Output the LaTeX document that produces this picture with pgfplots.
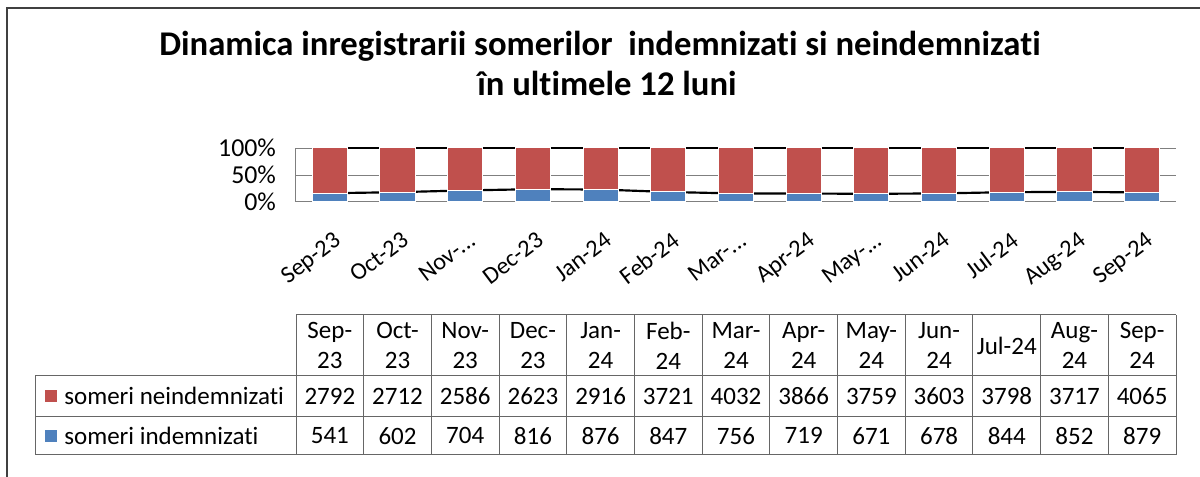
\documentclass[border=0pt]{standalone}
\usepackage{pgfplots}
\pgfplotsset{compat=1.18}
\usepackage{pgfplotstable}
\usepackage{fontspec}
\setmainfont{Carlito}[Ligatures=NoCommon]
\definecolor{cred}{HTML}{C0504D}
\definecolor{cblue}{HTML}{4F81BD}
\definecolor{cgrid}{HTML}{7F7F7F}

\pgfplotstableread{
x nein inde
0 2792 541
1 2712 602
2 2586 704
3 2623 816
4 2916 876
5 3721 847
6 4032 756
7 3866 719
8 3759 671
9 3603 678
10 3798 844
11 3717 852
12 4065 879
}\data

\newcommand\tabfont{\fontsize{15}{18}\selectfont}
\newcommand\dd{...}

\begin{document}
\begin{tikzpicture}[x=0.6pt,y=0.6pt]
\path[use as bounding box] (0,0) rectangle (1200,477);
% frame
\draw[line width=1pt, black!75] (7,0) -- (7,469) -- (1200,469);
% title
\node[anchor=base, font=\bfseries\fontsize{20.8}{25}\selectfont] at (600,421) {Dinamica inregistrarii somerilor\ \ indemnizati si neindemnizati};
\node[anchor=base, font=\bfseries\fontsize{20.8}{25}\selectfont] at (607,381) {în ultimele 12 luni};

% background axis: gridlines and series lines
\begin{axis}[at={(177.6pt,165pt)}, anchor=south west,
  width=528pt, height=32.4pt, scale only axis,
  xmin=-0.5, xmax=12.5, ymin=0, ymax=100,
  axis line style={draw=none},
  xtick=\empty, ytick={50,100}, yticklabels={},
  major tick length=0pt,
  ymajorgrids, grid style={cgrid, line width=0.4pt},
  clip=false]
\addplot[black, line width=1.3pt, mark=none]
  table[x=x, y expr={100*\thisrow{inde}/(\thisrow{inde}+\thisrow{nein})}]{\data};
\draw[black, line width=1.3pt] (axis cs:0,100) -- (axis cs:12,100);
\end{axis}

% bars axis
\begin{axis}[at={(177.6pt,165pt)}, anchor=south west,
  width=528pt, height=32.4pt, scale only axis,
  xmin=-0.5, xmax=12.5, ymin=0, ymax=100,
  ybar stacked, bar width=0.52,
  axis x line=bottom, axis y line=left,
  axis line style={-, cgrid, line width=0.6pt},
  xtick={0,...,12},
  xticklabels={Sep-23,Oct-23,Nov-\dd,Dec-23,Jan-24,Feb-24,Mar-\dd,Apr-24,May-\dd,Jun-24,Jul-24,Aug-24,Sep-24},
  ytick={0,50,100}, yticklabels={0\%,50\%,100\%},
  major tick length=0pt,
  yticklabel style={font=\fontsize{15.5}{18}\selectfont, xshift=-8.5pt},
  xticklabel style={font=\fontsize{14.5}{17}\selectfont, xshift=2.5pt, yshift=-12.5pt, rotate=37, anchor=north east},
  clip=false]
\addplot[fill=cblue, draw=white, line width=0.6pt]
  table[x=x, y expr={100*\thisrow{inde}/(\thisrow{inde}+\thisrow{nein})}]{\data};
\addplot[fill=cred, draw=white, line width=0.6pt]
  table[x=x, y expr={100*\thisrow{nein}/(\thisrow{inde}+\thisrow{nein})}]{\data};
\end{axis}

% data table
\begin{scope}[draw=black!60, line width=0.6pt]
\draw (296,162) -- (1176,162);
\draw (35,101) -- (1176,101);
\draw (35,60.5) -- (1176,60.5);
\draw (35,22) -- (1176,22);
\draw (35,101) -- (35,22);
\foreach \k in {0,...,13} {
  \draw ({296+67.692*\k},162) -- ({296+67.692*\k},22);
}
\end{scope}
\foreach \h [count=\i from 0] in {{Sep-\\23},{Oct-\\23},{Nov-\\23},{Dec-\\23},{Jan-\\24},{Feb-\\24},{Mar-\\24},{Apr-\\24},{May-\\24},{Jun-\\24},{Jul-24},{Aug-\\24},{Sep-\\24}} {
  \node[font=\tabfont, align=center, inner sep=0pt] at ({296+67.692*(\i+0.5)},131.5) {\h};
}
\foreach \k in {0,...,12} {
  \pgfplotstablegetelem{\k}{nein}\of\data
  \node[font=\tabfont, inner sep=0pt] at ({296+67.692*(\k+0.5)},80.75) {\pgfplotsretval};
  \pgfplotstablegetelem{\k}{inde}\of\data
  \node[font=\tabfont, inner sep=0pt] at ({296+67.692*(\k+0.5)},41.25) {\pgfplotsretval};
}
\fill[cred] (45,74.5) rectangle (57,86.5);
\fill[cblue] (45,35) rectangle (57,47);
\node[font=\tabfont, anchor=west, inner sep=0pt] at (64,80.75) {someri neindemnizati};
\node[font=\tabfont, anchor=west, inner sep=0pt] at (64,41.25) {someri indemnizati};
\end{tikzpicture}
\end{document}
